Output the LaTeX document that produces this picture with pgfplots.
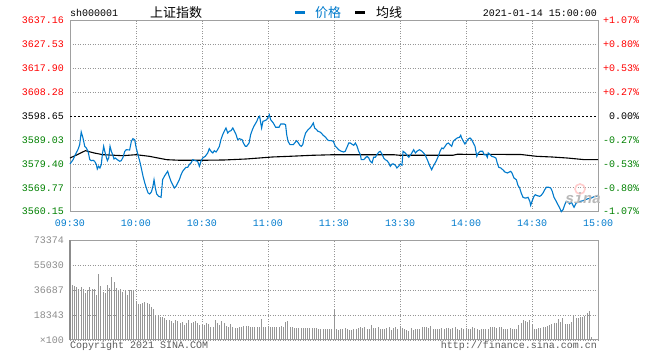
\documentclass[border=0pt]{standalone}
\usepackage{pgfplots}
\pgfplotsset{compat=1.18}
\usepackage{fontspec}
\setmainfont{Liberation Mono}
\newfontfamily\cjk{Noto Sans CJK SC}
\definecolor{sred}{RGB}{255,0,0}
\definecolor{sgreen}{RGB}{0,128,0}
\definecolor{sblue}{RGB}{0,122,204}
\definecolor{sframe}{RGB}{160,160,160}
\definecolor{sgrid}{RGB}{150,150,150}
\definecolor{sbar}{RGB}{150,150,150}
\definecolor{slabel}{RGB}{140,140,140}
\definecolor{scopy}{RGB}{90,90,90}
\newcommand{\tf}{\fontsize{10bp}{12bp}\selectfont}
\pgfplotsset{
  sinagrid/.style={
    xmajorgrids=true, ymajorgrids=true,
    major grid style={draw=sgrid, line width=0.9bp, dash pattern=on 1bp off 1.5bp},
    xtick style={draw=none}, ytick style={draw=none},
    axis line style={sframe, line width=1bp},
    tick label style={font=\tf, inner sep=0pt},
  }
}
\begin{document}
\begin{tikzpicture}
\useasboundingbox (0,0) rectangle (660bp,360bp);
% ---------------- price panel ----------------
\begin{axis}[
  sinagrid,
  scale only axis, width=528bp, height=191bp,
  at={(70bp,148.3bp)}, anchor=south west,
  xmin=0, xmax=240, ymin=3560.15, ymax=3637.16,
  xtick={0,30,60,90,120,150,180,210,240},
  xticklabels={09:30,10:00,10:30,11:00,11:30,13:30,14:00,14:30,15:00},
  ytick={3560.15,3569.77,3579.40,3589.03,3608.28,3617.90,3627.53,3637.16},
  yticklabels={\textcolor{sgreen}{3560.15},\textcolor{sgreen}{3569.77},\textcolor{sgreen}{3579.40},\textcolor{sgreen}{3589.03},\textcolor{sred}{3608.28},\textcolor{sred}{3617.90},\textcolor{sred}{3627.53},\textcolor{sred}{3637.16}},
  extra y ticks={3598.65}, extra y tick labels={3598.65},
  extra y tick style={ytick style={draw=none}, major grid style={draw=black, line width=0.9bp, dash pattern=on 2bp off 2bp}},
  yticklabel style={anchor=east, xshift=-6bp},
  xticklabel style={text=sblue, anchor=center, yshift=-11.5bp},
  scaled y ticks=false,
  clip=false,
]
\addplot[black, line width=1.1bp] table {
0 3581.80
3 3583.01
7 3584.75
11 3583.82
15 3583.13
24 3582.73
30 3583.13
36 3582.49
40 3581.80
44 3581.12
50 3580.88
60 3580.88
70 3581.00
80 3581.40
86 3581.80
92 3582.21
100 3582.49
110 3582.89
120 3583.13
147 3583.13
150 3582.89
174 3582.89
176 3583.30
205 3583.21
212 3582.49
219 3582.21
226 3581.80
234 3581.12
240 3581.12
};
\addplot[sblue, line width=1.1bp] table {
0 3579.39
1.4 3581.12
2.4 3583.13
3.6 3585.15
4.4 3587.17
5.1 3592.29
5.9 3589.87
6.7 3586.52
7.4 3585.84
8.2 3584.51
9.0 3581.12
9.7 3580.72
10.5 3580.88
11.2 3580.47
12.0 3579.10
12.4 3577.37
13.0 3578.46
13.6 3577.77
14.2 3579.10
14.7 3583.13
15.3 3586.52
15.8 3584.51
16.4 3582.49
17.0 3580.72
17.6 3581.80
18.2 3586.52
18.8 3584.51
19.4 3583.13
20.0 3581.40
20.6 3581.80
21.5 3581.12
22.6 3580.47
23.3 3580.72
24.1 3582.09
24.9 3584.51
25.6 3585.15
27.1 3585.03
27.9 3588.54
28.6 3589.59
29.4 3589.18
30.1 3585.84
30.9 3583.13
31.7 3580.47
32.4 3577.77
33.2 3574.43
34.0 3571.72
34.7 3569.71
35.5 3567.69
36.2 3567.29
37.0 3568.10
37.7 3570.39
38.2 3573.05
38.8 3569.71
39.4 3567.29
40.3 3566.36
41.4 3565.96
42.1 3573.05
42.9 3574.43
44.4 3576.44
45.1 3574.43
45.9 3572.41
47.4 3569.71
48.2 3570.39
49.7 3573.05
50.5 3575.07
51.2 3576.44
52.7 3578.05
53.5 3578.05
54.2 3579.10
55.0 3579.79
55.8 3581.12
57.0 3580.72
58.0 3580.47
58.8 3578.46
59.5 3580.47
60.3 3581.80
61.5 3582.49
62.6 3583.82
63.3 3585.55
64.1 3584.51
64.9 3583.82
65.6 3584.75
66.4 3584.22
67.1 3585.15
67.9 3586.52
68.6 3589.18
69.4 3591.20
70.1 3592.57
70.9 3593.90
71.7 3591.88
72.4 3592.57
73.2 3592.81
74.0 3593.90
75.5 3591.20
76.2 3589.18
77.0 3589.59
78.2 3589.18
78.8 3587.85
79.7 3586.52
80.3 3586.52
81.4 3587.85
82.1 3591.20
82.9 3593.21
83.6 3594.59
84.9 3596.60
85.5 3597.93
86.2 3598.62
86.7 3595.92
87.1 3593.90
87.7 3596.60
88.5 3596.84
89.4 3597.25
90.0 3598.21
90.6 3599.26
91.2 3597.25
92.4 3595.92
93.5 3594.18
95.0 3594.18
95.8 3595.51
97.3 3595.51
98.0 3595.23
98.5 3591.20
99.1 3588.54
100.0 3587.17
101.5 3587.17
102.1 3587.85
103.0 3588.78
103.6 3588.13
104.5 3586.92
105.1 3586.52
105.8 3587.17
106.4 3589.87
107.1 3591.88
108.2 3593.21
109.1 3593.90
109.7 3594.59
110.6 3595.92
111.2 3593.90
112.1 3593.21
112.7 3592.57
113.6 3592.29
114.2 3591.88
115.1 3590.96
116.2 3590.15
117.0 3589.18
117.7 3588.78
118.8 3588.78
119.7 3588.54
120.3 3587.17
120.6 3586.52
121.4 3585.84
122.1 3585.15
123.3 3584.51
124.4 3584.22
125.1 3584.51
125.9 3586.12
126.7 3587.85
127.4 3587.85
128.5 3587.17
129.0 3586.92
129.7 3587.85
130.5 3586.52
131.2 3584.51
132.0 3583.13
132.4 3581.12
133.5 3581.12
134.2 3581.80
135.0 3582.49
135.8 3581.80
136.5 3580.47
137.3 3579.79
138.0 3582.09
138.8 3582.09
139.5 3583.13
140.3 3584.10
141.0 3584.51
141.8 3583.42
142.6 3581.80
143.3 3581.12
144.1 3580.72
144.9 3579.79
145.6 3578.46
146.4 3579.39
147.1 3579.39
147.9 3578.86
148.6 3577.77
149.4 3578.46
150.1 3579.39
150.9 3578.86
151.4 3584.51
152.4 3583.82
154.0 3582.09
155.1 3583.42
156.2 3585.15
157.0 3583.82
157.7 3584.51
158.8 3585.15
160.0 3584.51
161.4 3583.13
162.4 3581.12
163.6 3578.46
164.4 3577.09
165.1 3578.46
166.4 3580.47
167.4 3582.49
168.2 3584.51
169.0 3585.84
169.7 3585.55
170.5 3586.52
171.2 3587.45
172.0 3587.85
172.7 3587.17
173.5 3586.52
174.2 3588.54
175.0 3589.18
176.0 3589.87
177.0 3590.15
177.6 3590.96
178.0 3589.87
178.8 3588.54
179.5 3587.45
180.3 3588.54
181.0 3589.46
181.8 3589.87
182.6 3589.18
183.3 3587.85
184.1 3586.52
184.9 3582.49
185.6 3583.82
186.4 3584.51
187.6 3584.51
188.2 3583.13
189.1 3583.13
189.7 3582.09
190.1 3583.82
190.9 3583.13
191.7 3582.49
192.7 3582.21
193.6 3581.80
194.2 3579.79
194.9 3578.05
195.8 3577.77
196.7 3577.09
197.7 3576.16
198.8 3575.76
199.7 3576.16
200.3 3576.44
200.9 3575.76
201.8 3573.74
202.9 3573.05
203.6 3570.80
204.4 3569.71
205.1 3567.69
205.9 3565.96
206.7 3565.68
207.4 3565.68
208.2 3565.96
209.0 3564.35
209.4 3562.73
210.0 3564.35
210.9 3566.36
211.5 3567.01
212.4 3566.60
213.5 3566.36
214.2 3566.76
215.0 3567.69
215.8 3569.02
216.5 3569.99
217.6 3569.99
218.5 3569.71
219.2 3568.38
220.0 3565.96
221.0 3564.35
221.8 3562.97
222.6 3561.64
223.3 3560.15
224.1 3560.96
224.9 3562.97
225.6 3564.35
226.4 3564.06
227.1 3563.26
227.9 3564.06
228.6 3562.73
229.1 3561.93
229.7 3562.97
230.1 3563.66
230.9 3563.94
232.1 3564.35
233.2 3564.59
233.9 3564.87
235.5 3565.39
237.0 3565.68
238.2 3566.20
239.3 3566.36
240.0 3566.76
};
\node[anchor=west, text=sred, font=\tf, inner sep=0pt] at (axis cs:240,3637.16) {\hspace{5bp}+1.07\%};
\node[anchor=west, text=sred, font=\tf, inner sep=0pt] at (axis cs:240,3627.53) {\hspace{5bp}+0.80\%};
\node[anchor=west, text=sred, font=\tf, inner sep=0pt] at (axis cs:240,3617.90) {\hspace{5bp}+0.53\%};
\node[anchor=west, text=sred, font=\tf, inner sep=0pt] at (axis cs:240,3608.28) {\hspace{5bp}+0.27\%};
\node[anchor=west, text=black, font=\tf, inner sep=0pt] at (axis cs:240,3598.65) {\hspace{5bp}\phantom{+}0.00\%};
\node[anchor=west, text=sgreen, font=\tf, inner sep=0pt] at (axis cs:240,3589.03) {\hspace{5bp}-0.27\%};
\node[anchor=west, text=sgreen, font=\tf, inner sep=0pt] at (axis cs:240,3579.40) {\hspace{5bp}-0.53\%};
\node[anchor=west, text=sgreen, font=\tf, inner sep=0pt] at (axis cs:240,3569.77) {\hspace{5bp}-0.80\%};
\node[anchor=west, text=sgreen, font=\tf, inner sep=0pt] at (axis cs:240,3560.15) {\hspace{5bp}-1.07\%};
\end{axis}
% sina watermark
\draw[red!20, line width=1.6bp] (580bp,171bp) circle (5bp);
\node[text=black!28, font=\bfseries\itshape\fontsize{15bp}{15bp}\selectfont, inner sep=0pt] at (583bp,162bp) {sina};
% ---------------- volume panel ----------------
\begin{axis}[
  sinagrid,
  scale only axis, width=528bp, height=100bp,
  at={(70bp,20bp)}, anchor=south west,
  xmin=0, xmax=240, ymin=0, ymax=73374,
  xtick={0,30,60,90,120,150,180,210,240}, xticklabels={},
  ytick={0,18343,36687,55030,73374},
  yticklabels={×100,18343,36687,55030,73374},
  scaled y ticks=false,
  yticklabel style={anchor=east, xshift=-6bp, text=slabel},
  clip=false,
]
\addplot[ycomb, sbar, line width=0.9bp, no marks] table {
0 46500
1 40400
2 39600
3 38600
4 37200
5 39100
6 37200
7 34200
8 36700
9 38600
10 37200
11 37200
12 33000
13 48400
14 39600
15 35500
16 34200
17 40300
18 37900
19 46500
20 42300
21 37900
22 36200
23 37700
24 35200
25 36200
26 33000
27 36700
28 36700
29 36700
30 28600
31 26400
32 26400
33 27400
34 27900
35 27400
36 26400
37 24000
38 22500
39 18300
40 17600
41 16600
42 16600
43 15900
44 14700
45 14700
46 14200
47 12700
48 14700
49 14200
50 12700
51 13200
52 11000
53 12200
54 14700
55 12700
56 13500
57 14200
58 12200
59 11000
60 11000
61 11000
62 12700
63 11700
64 9800
65 9800
66 14700
67 12200
68 11000
69 14200
70 12700
71 10300
72 9800
73 11700
74 9800
75 8600
76 8600
77 9300
78 9800
79 10300
80 10300
81 10300
82 9800
83 9800
84 9800
85 9800
86 9800
87 15200
88 9800
89 9800
90 9800
91 9300
92 9800
93 9800
94 9300
95 9300
96 10300
97 9800
98 13500
99 14200
100 9300
101 9300
102 8600
103 8600
104 8600
105 8600
106 8600
107 8600
108 8600
109 8600
110 8600
111 8600
112 8600
113 7800
114 8100
115 8100
116 7800
117 7800
118 8100
119 7800
120 23000
121 8000
122 7300
123 7800
124 8000
125 8500
126 7800
127 7300
128 7300
129 7800
130 8300
131 8500
132 9800
133 8500
134 9300
135 8300
136 8000
137 11000
138 8500
139 8500
140 9300
141 7800
142 7800
143 7800
144 8500
145 9300
146 7300
147 8500
148 9800
149 8000
150 9300
151 8500
152 7800
153 7300
154 6800
155 8500
156 7300
157 7800
158 7800
159 7800
160 9300
161 9800
162 9800
163 8500
164 10300
165 8000
166 8000
167 7800
168 8000
169 8500
170 8000
171 8500
172 8500
173 8000
174 8500
175 9300
176 8000
177 7300
178 8500
179 8000
180 8500
181 7800
182 7800
183 9300
184 8500
185 7800
186 7300
187 7800
188 8000
189 7800
190 8000
191 9300
192 9800
193 9300
194 8500
195 9800
196 9300
197 8000
198 8000
199 8000
200 8500
201 8000
202 7800
203 8000
204 11000
205 12700
206 14700
207 14200
208 13500
209 14700
210 11000
211 7800
212 7800
213 8500
214 9000
215 9800
216 9800
217 10300
218 11000
219 11700
220 12200
221 12700
222 15200
223 13500
224 15900
225 11700
226 11700
227 11700
228 13500
229 18300
230 15900
231 15900
232 16600
233 17100
234 17600
235 20100
236 21000
237 2400
};
\draw[black!45, line width=1.3bp] (rel axis cs:0,0) -- (rel axis cs:0,1);
\end{axis}
% ---------------- header ----------------
\node[anchor=west, font=\tf, inner sep=0pt] at (70bp,347bp) {sh000001};
\node[anchor=west, font=\cjk\fontsize{13bp}{13bp}\selectfont, inner sep=0pt] at (150bp,347bp) {上证指数};
\fill[sblue] (295bp,345.6bp) rectangle (305bp,348.8bp);
\node[anchor=west, text=sblue, font=\cjk\fontsize{13bp}{13bp}\selectfont, inner sep=0pt] at (315bp,347bp) {价格};
\fill[black] (355bp,345.6bp) rectangle (365bp,348.8bp);
\node[anchor=west, font=\cjk\fontsize{13bp}{13bp}\selectfont, inner sep=0pt] at (376bp,347bp) {均线};
\node[anchor=east, font=\tf, inner sep=0pt] at (597bp,347bp) {2021-01-14 15:00:00};
% ---------------- footer ----------------
\node[anchor=west, font=\tf, text=scopy, inner sep=0pt] at (70bp,14bp) {Copyright 2021 SINA.COM};
\node[anchor=east, font=\tf, text=scopy, inner sep=0pt] at (597bp,14bp) {http://finance.sina.com.cn};
\end{tikzpicture}
\end{document}
